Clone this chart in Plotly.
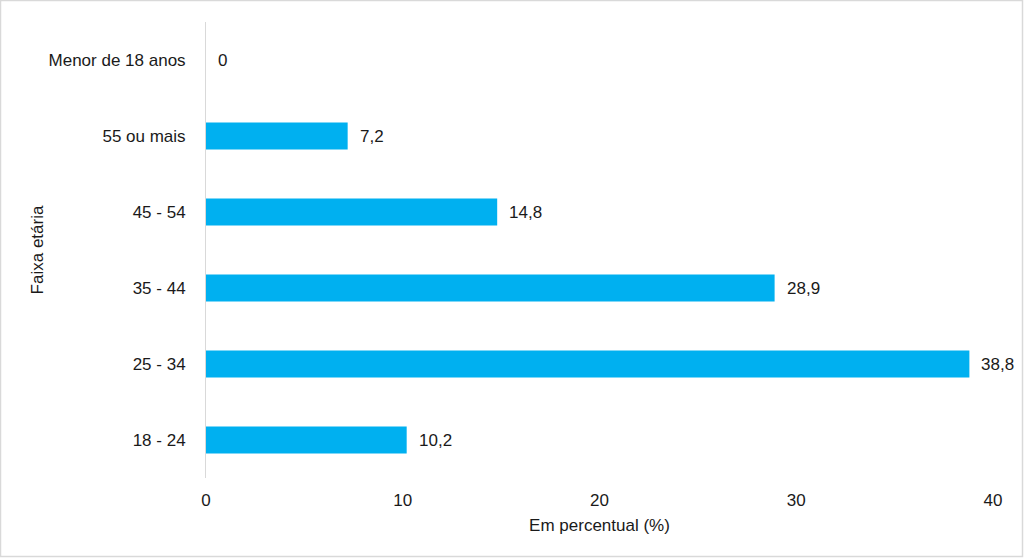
import plotly.graph_objects as go

categories = ["18 - 24", "25 - 34", "35 - 44", "45 - 54", "55 ou mais", "Menor de 18 anos"]
values = [10.2, 38.8, 28.9, 14.8, 7.2, 0]
x_ticks = [0, 10, 20, 30, 40]

def fmt(v):
    return ("%g" % v).replace(".", ",")

labels = [fmt(v) for v in values]

W, H = 1024, 558
ml, mr, mt, mb = 206, 31, 22, 80
pw, ph = W - ml - mr, H - mt - mb

font = dict(family="Liberation Sans, Arial, sans-serif", size=17, color="#1a1a1a")

fig = go.Figure()
fig.add_trace(go.Bar(
    y=categories, x=values, orientation="h",
    marker=dict(color="#00B0F0", line=dict(width=0)),
    width=0.355,
    hoverinfo="skip",
))

for c, v, t in zip(categories, values, labels):
    fig.add_annotation(x=v, y=c, text=t, showarrow=False, xanchor="left",
                       xshift=10, font=font)

fig.update_layout(
    width=W, height=H,
    margin=dict(l=ml, r=mr, t=mt, b=mb),
    paper_bgcolor="white", plot_bgcolor="white",
    font=font,
    showlegend=False,
    xaxis=dict(
        range=[0, 40], tickvals=x_ticks, ticktext=[str(t) for t in x_ticks],
        showgrid=False, zeroline=False, showline=False,
        ticks="", ticklabelstandoff=10,
        title=dict(text="Em percentual (%)", font=font, standoff=10),
        fixedrange=True,
    ),
    yaxis=dict(
        categoryorder="array", categoryarray=categories,
        range=[-0.5, len(categories) - 0.5],
        showgrid=False, zeroline=False,
        showline=True, linecolor="#d9d9d9", linewidth=1,
        ticks="", ticklabelstandoff=16,
        title=dict(text="Faixa etária", font=font, standoff=0),
        fixedrange=True,
    ),
    shapes=[dict(
        type="rect", xref="paper", yref="paper",
        x0=(0.5 - ml) / pw, x1=(W - 1.5 - ml) / pw,
        y0=-(H - 1.5 - mt - ph) / ph, y1=(ph + mt - 0.5) / ph,
        line=dict(color="#d9d9d9", width=1.5), fillcolor="rgba(0,0,0,0)",
        layer="above",
    )],
)

fig.write_html(
    "out.html",
    config={"displayModeBar": False, "staticPlot": True},
    post_script="document.body.style.margin='0';document.body.style.overflow='hidden';",
)
